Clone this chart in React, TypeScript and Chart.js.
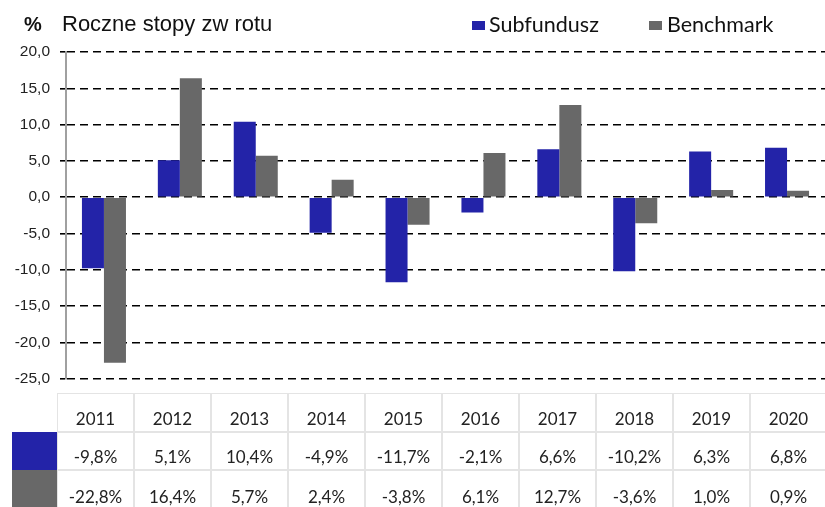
import React, { useEffect, useRef } from "react";
import { Chart, registerables } from "chart.js";

Chart.register(...registerables);

const years = ["2011", "2012", "2013", "2014", "2015", "2016", "2017", "2018", "2019", "2020"];
const subfundusz = [-9.8, 5.1, 10.4, -4.9, -11.7, -2.1, 6.6, -10.2, 6.3, 6.8];
const benchmark = [-22.8, 16.4, 5.7, 2.4, -3.8, 6.1, 12.7, -3.6, 1.0, 0.9];
const seriesNames = ["Subfundusz", "Benchmark"];
const seriesColors = ["#2323a8", "#686868"];

const fmt = (v: number) => v.toFixed(1).replace(".", ",");

export default function App() {
  const ref = useRef<HTMLCanvasElement | null>(null);

  useEffect(() => {
    document.body.style.margin = "0";
    const ctx = ref.current!.getContext("2d")!;
    const chart = new Chart(ctx, {
      type: "bar",
      data: {
        labels: years,
        datasets: [
          { label: seriesNames[0], data: subfundusz, backgroundColor: seriesColors[0], categoryPercentage: 0.58, barPercentage: 1 },
          { label: seriesNames[1], data: benchmark, backgroundColor: seriesColors[1], categoryPercentage: 0.58, barPercentage: 1 },
        ],
      },
      options: {
        animation: false,
        responsive: false,
        maintainAspectRatio: false,
        layout: { padding: { top: 52, bottom: 4, left: 0, right: 0 } },
        plugins: { legend: { display: false }, tooltip: { enabled: false }, title: { display: false } },
        scales: {
          x: { display: false },
          y: {
            min: -25,
            max: 20,
            afterFit: (s: any) => { s.width = 66; },
            ticks: {
              stepSize: 5,
              padding: 10,
              color: "#222",
              font: { family: "Liberation Sans", size: 15.5 },
              callback: (v: any) => fmt(Number(v)),
            },
            grid: {
              color: "#000",
              lineWidth: 1.6,
              tickLength: 6,
              tickColor: "#000",
            },
            border: { display: true, color: "#a0a0a0", width: 2, dash: [8, 5] },
          },
        },
      },
    });
    return () => chart.destroy();
  }, []);

  const colLeft = 57;
  const colW = 77;
  const rowTops = [393, 432, 470];
  const rowH = [39, 38, 40];
  const rows: string[][] = [
    years,
    subfundusz.map((v) => fmt(v) + "%"),
    benchmark.map((v) => fmt(v) + "%"),
  ];

  return (
    <div style={{ position: "absolute", left: 0, top: 0, width: 825, height: 507, overflow: "hidden", background: "#fff" }}>
      <canvas ref={ref} width={825} height={398} style={{ position: "absolute", left: 0, top: 0 }} />
      <div style={{ position: "absolute", left: 24, top: 13, font: "bold 20px 'Liberation Sans'", color: "#111" }}>%</div>
      <div style={{ position: "absolute", left: 62, top: 11, font: "22px 'Liberation Sans'", color: "#111" }}>Roczne stopy zw rotu</div>
      <div style={{ position: "absolute", left: 472, top: 21, width: 13, height: 9, background: seriesColors[0] }} />
      <div style={{ position: "absolute", left: 489, top: 11, font: "21.5px Lato", color: "#111" }}>{seriesNames[0]}</div>
      <div style={{ position: "absolute", left: 649, top: 21, width: 13, height: 9, background: seriesColors[1] }} />
      <div style={{ position: "absolute", left: 667, top: 11, font: "21.5px Lato", color: "#111" }}>{seriesNames[1]}</div>
      <div style={{ position: "absolute", left: 12, top: rowTops[1], width: 45, height: rowH[1], background: seriesColors[0] }} />
      <div style={{ position: "absolute", left: 12, top: rowTops[2], width: 45, height: rowH[2], background: seriesColors[1] }} />
      {rows.map((row, ri) =>
        row.map((txt, ci) => (
          <div
            key={ri + "-" + ci}
            style={{
              position: "absolute",
              left: colLeft + ci * colW,
              top: rowTops[ri],
              width: colW,
              height: rowH[ri],
              boxSizing: "border-box",
              border: "1.5px solid #e4e4e4",
              display: "flex",
              alignItems: "flex-end",
              paddingBottom: 2,
              justifyContent: "center",
              font: "17px Lato",
              color: "#222",
            }}
          >
            {txt}
          </div>
        ))
      )}
    </div>
  );
}
